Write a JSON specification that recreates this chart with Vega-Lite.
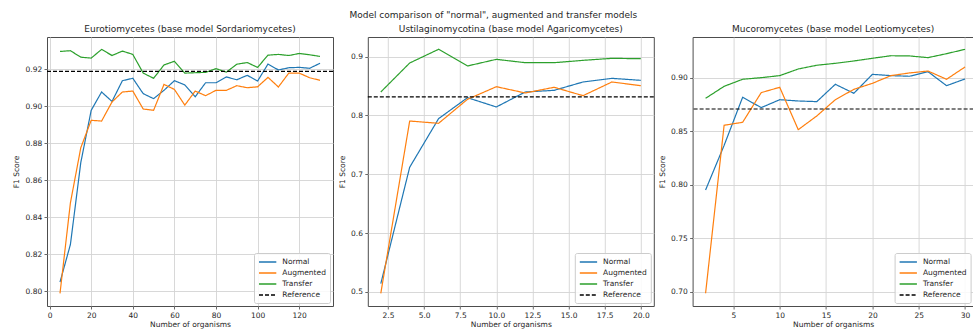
{
  "$schema": "https://vega.github.io/schema/vega-lite/v6.json",
  "padding": {"left": 12, "top": 10, "right": 0, "bottom": 0},
  "title": {"text": "Model comparison of \"normal\", augmented and transfer models", "anchor": "middle", "fontSize": 9, "offset": 5},
  "datasets": {
    "euro": [
      {"series": "Normal", "organisms": 5, "f1": 0.8049}, {"series": "Normal", "organisms": 10, "f1": 0.8252}, {"series": "Normal", "organisms": 15, "f1": 0.8695}, {"series": "Normal", "organisms": 20, "f1": 0.8977}, {"series": "Normal", "organisms": 25, "f1": 0.9076}, {"series": "Normal", "organisms": 30, "f1": 0.9025}, {"series": "Normal", "organisms": 35, "f1": 0.9137}, {"series": "Normal", "organisms": 40, "f1": 0.915}, {"series": "Normal", "organisms": 45, "f1": 0.9067}, {"series": "Normal", "organisms": 50, "f1": 0.904}, {"series": "Normal", "organisms": 55, "f1": 0.9085}, {"series": "Normal", "organisms": 60, "f1": 0.9137}, {"series": "Normal", "organisms": 65, "f1": 0.9114}, {"series": "Normal", "organisms": 70, "f1": 0.905}, {"series": "Normal", "organisms": 75, "f1": 0.9126}, {"series": "Normal", "organisms": 80, "f1": 0.9126}, {"series": "Normal", "organisms": 85, "f1": 0.9157}, {"series": "Normal", "organisms": 90, "f1": 0.9142}, {"series": "Normal", "organisms": 95, "f1": 0.9166}, {"series": "Normal", "organisms": 100, "f1": 0.9135}, {"series": "Normal", "organisms": 105, "f1": 0.9227}, {"series": "Normal", "organisms": 110, "f1": 0.9195}, {"series": "Normal", "organisms": 115, "f1": 0.9207}, {"series": "Normal", "organisms": 120, "f1": 0.9209}, {"series": "Normal", "organisms": 125, "f1": 0.9204}, {"series": "Normal", "organisms": 130, "f1": 0.9231},
      {"series": "Augmented", "organisms": 5, "f1": 0.7988}, {"series": "Augmented", "organisms": 10, "f1": 0.8477}, {"series": "Augmented", "organisms": 15, "f1": 0.8775}, {"series": "Augmented", "organisms": 20, "f1": 0.8923}, {"series": "Augmented", "organisms": 25, "f1": 0.8919}, {"series": "Augmented", "organisms": 30, "f1": 0.9022}, {"series": "Augmented", "organisms": 35, "f1": 0.9076}, {"series": "Augmented", "organisms": 40, "f1": 0.9081}, {"series": "Augmented", "organisms": 45, "f1": 0.8984}, {"series": "Augmented", "organisms": 50, "f1": 0.8977}, {"series": "Augmented", "organisms": 55, "f1": 0.9117}, {"series": "Augmented", "organisms": 60, "f1": 0.909}, {"series": "Augmented", "organisms": 65, "f1": 0.9005}, {"series": "Augmented", "organisms": 70, "f1": 0.9081}, {"series": "Augmented", "organisms": 75, "f1": 0.9056}, {"series": "Augmented", "organisms": 80, "f1": 0.9085}, {"series": "Augmented", "organisms": 85, "f1": 0.9085}, {"series": "Augmented", "organisms": 90, "f1": 0.911}, {"series": "Augmented", "organisms": 95, "f1": 0.9099}, {"series": "Augmented", "organisms": 100, "f1": 0.9104}, {"series": "Augmented", "organisms": 105, "f1": 0.9155}, {"series": "Augmented", "organisms": 110, "f1": 0.9103}, {"series": "Augmented", "organisms": 115, "f1": 0.9178}, {"series": "Augmented", "organisms": 120, "f1": 0.9178}, {"series": "Augmented", "organisms": 125, "f1": 0.9153}, {"series": "Augmented", "organisms": 130, "f1": 0.9139},
      {"series": "Transfer", "organisms": 5, "f1": 0.9295}, {"series": "Transfer", "organisms": 10, "f1": 0.9299}, {"series": "Transfer", "organisms": 15, "f1": 0.9264}, {"series": "Transfer", "organisms": 20, "f1": 0.9259}, {"series": "Transfer", "organisms": 25, "f1": 0.9306}, {"series": "Transfer", "organisms": 30, "f1": 0.9273}, {"series": "Transfer", "organisms": 35, "f1": 0.9297}, {"series": "Transfer", "organisms": 40, "f1": 0.9279}, {"series": "Transfer", "organisms": 45, "f1": 0.9178}, {"series": "Transfer", "organisms": 50, "f1": 0.915}, {"series": "Transfer", "organisms": 55, "f1": 0.9222}, {"series": "Transfer", "organisms": 60, "f1": 0.9242}, {"series": "Transfer", "organisms": 65, "f1": 0.9178}, {"series": "Transfer", "organisms": 70, "f1": 0.918}, {"series": "Transfer", "organisms": 75, "f1": 0.9182}, {"series": "Transfer", "organisms": 80, "f1": 0.9202}, {"series": "Transfer", "organisms": 85, "f1": 0.9183}, {"series": "Transfer", "organisms": 90, "f1": 0.9226}, {"series": "Transfer", "organisms": 95, "f1": 0.9235}, {"series": "Transfer", "organisms": 100, "f1": 0.9209}, {"series": "Transfer", "organisms": 105, "f1": 0.9275}, {"series": "Transfer", "organisms": 110, "f1": 0.9279}, {"series": "Transfer", "organisms": 115, "f1": 0.9273}, {"series": "Transfer", "organisms": 120, "f1": 0.9284}, {"series": "Transfer", "organisms": 125, "f1": 0.9277}, {"series": "Transfer", "organisms": 130, "f1": 0.9268},
      {"series": "Reference", "f1": 0.9187}
    ],
    "usti": [
      {"series": "Normal", "organisms": 2, "f1": 0.514}, {"series": "Normal", "organisms": 4, "f1": 0.712}, {"series": "Normal", "organisms": 6, "f1": 0.7946}, {"series": "Normal", "organisms": 8, "f1": 0.8303}, {"series": "Normal", "organisms": 10, "f1": 0.8145}, {"series": "Normal", "organisms": 12, "f1": 0.84}, {"series": "Normal", "organisms": 14, "f1": 0.8428}, {"series": "Normal", "organisms": 16, "f1": 0.857}, {"series": "Normal", "organisms": 18, "f1": 0.8632}, {"series": "Normal", "organisms": 20, "f1": 0.8598},
      {"series": "Augmented", "organisms": 2, "f1": 0.4976}, {"series": "Augmented", "organisms": 4, "f1": 0.7906}, {"series": "Augmented", "organisms": 6, "f1": 0.7867}, {"series": "Augmented", "organisms": 8, "f1": 0.8275}, {"series": "Augmented", "organisms": 10, "f1": 0.849}, {"series": "Augmented", "organisms": 12, "f1": 0.8383}, {"series": "Augmented", "organisms": 14, "f1": 0.848}, {"series": "Augmented", "organisms": 16, "f1": 0.8337}, {"series": "Augmented", "organisms": 18, "f1": 0.857}, {"series": "Augmented", "organisms": 20, "f1": 0.8507},
      {"series": "Transfer", "organisms": 2, "f1": 0.84}, {"series": "Transfer", "organisms": 4, "f1": 0.8893}, {"series": "Transfer", "organisms": 6, "f1": 0.9126}, {"series": "Transfer", "organisms": 8, "f1": 0.8842}, {"series": "Transfer", "organisms": 10, "f1": 0.8955}, {"series": "Transfer", "organisms": 12, "f1": 0.8898}, {"series": "Transfer", "organisms": 14, "f1": 0.8898}, {"series": "Transfer", "organisms": 16, "f1": 0.8938}, {"series": "Transfer", "organisms": 18, "f1": 0.8972}, {"series": "Transfer", "organisms": 20, "f1": 0.8966},
      {"series": "Reference", "f1": 0.8315}
    ],
    "muco": [
      {"series": "Normal", "organisms": 2, "f1": 0.7953}, {"series": "Normal", "organisms": 4, "f1": 0.837}, {"series": "Normal", "organisms": 6, "f1": 0.882}, {"series": "Normal", "organisms": 8, "f1": 0.8723}, {"series": "Normal", "organisms": 10, "f1": 0.8797}, {"series": "Normal", "organisms": 12, "f1": 0.8785}, {"series": "Normal", "organisms": 14, "f1": 0.8779}, {"series": "Normal", "organisms": 16, "f1": 0.8941}, {"series": "Normal", "organisms": 18, "f1": 0.8857}, {"series": "Normal", "organisms": 20, "f1": 0.9034}, {"series": "Normal", "organisms": 22, "f1": 0.9022}, {"series": "Normal", "organisms": 24, "f1": 0.9016}, {"series": "Normal", "organisms": 26, "f1": 0.9059}, {"series": "Normal", "organisms": 28, "f1": 0.8928}, {"series": "Normal", "organisms": 30, "f1": 0.8991},
      {"series": "Augmented", "organisms": 2, "f1": 0.6988}, {"series": "Augmented", "organisms": 4, "f1": 0.8558}, {"series": "Augmented", "organisms": 6, "f1": 0.8586}, {"series": "Augmented", "organisms": 8, "f1": 0.8863}, {"series": "Augmented", "organisms": 10, "f1": 0.8913}, {"series": "Augmented", "organisms": 12, "f1": 0.8517}, {"series": "Augmented", "organisms": 14, "f1": 0.8645}, {"series": "Augmented", "organisms": 16, "f1": 0.8797}, {"series": "Augmented", "organisms": 18, "f1": 0.8894}, {"series": "Augmented", "organisms": 20, "f1": 0.895}, {"series": "Augmented", "organisms": 22, "f1": 0.9022}, {"series": "Augmented", "organisms": 24, "f1": 0.9047}, {"series": "Augmented", "organisms": 26, "f1": 0.9065}, {"series": "Augmented", "organisms": 28, "f1": 0.8988}, {"series": "Augmented", "organisms": 30, "f1": 0.9103},
      {"series": "Transfer", "organisms": 2, "f1": 0.881}, {"series": "Transfer", "organisms": 4, "f1": 0.8922}, {"series": "Transfer", "organisms": 6, "f1": 0.8988}, {"series": "Transfer", "organisms": 8, "f1": 0.9003}, {"series": "Transfer", "organisms": 10, "f1": 0.9022}, {"series": "Transfer", "organisms": 12, "f1": 0.9084}, {"series": "Transfer", "organisms": 14, "f1": 0.9119}, {"series": "Transfer", "organisms": 16, "f1": 0.9137}, {"series": "Transfer", "organisms": 18, "f1": 0.9159}, {"series": "Transfer", "organisms": 20, "f1": 0.9184}, {"series": "Transfer", "organisms": 22, "f1": 0.9208}, {"series": "Transfer", "organisms": 24, "f1": 0.9206}, {"series": "Transfer", "organisms": 26, "f1": 0.919}, {"series": "Transfer", "organisms": 28, "f1": 0.9227}, {"series": "Transfer", "organisms": 30, "f1": 0.9268},
      {"series": "Reference", "f1": 0.871}
    ]
  },
  "hconcat": [
    {
      "title": "Eurotiomycetes (base model Sordariomycetes)",
      "width": 286, "height": 269,
      "data": {"name": "euro"},
      "encoding": {
        "y": {"field": "f1", "type": "quantitative", "title": "F1 Score", "scale": {"domain": [0.792, 0.9373], "nice": false, "zero": false}, "axis": {"values": [0.80, 0.82, 0.84, 0.86, 0.88, 0.90, 0.92], "format": ".2f"}},
        "color": {"field": "series", "type": "nominal", "title": null, "scale": {"domain": ["Normal", "Augmented", "Transfer", "Reference"], "range": ["#1f77b4", "#ff7f0e", "#2ca02c", "#000000"]}},
        "strokeDash": {"field": "series", "type": "nominal", "title": null, "scale": {"domain": ["Normal", "Augmented", "Transfer", "Reference"], "range": [[1, 0], [1, 0], [1, 0], [4, 2]]}}
      },
      "layer": [
        {"transform": [{"filter": "datum.series !== 'Reference'"}], "mark": {"type": "line", "strokeWidth": 1.2},
         "encoding": {"x": {"field": "organisms", "type": "quantitative", "title": "Number of organisms", "scale": {"domain": [-1.25, 136.25], "nice": false, "zero": false}, "axis": {"values": [0, 20, 40, 60, 80, 100, 120], "format": "d"}}}},
        {"transform": [{"filter": "datum.series === 'Reference'"}], "mark": {"type": "rule", "strokeWidth": 1.2}, "encoding": {}}
      ]
    },
    {
      "title": "Ustilaginomycotina (base model Agaricomycetes)",
      "width": 286, "height": 269,
      "data": {"name": "usti"},
      "encoding": {
        "y": {"field": "f1", "type": "quantitative", "title": "F1 Score", "scale": {"domain": [0.476, 0.9335], "nice": false, "zero": false}, "axis": {"values": [0.5, 0.6, 0.7, 0.8, 0.9], "format": ".1f"}},
        "color": {"field": "series", "type": "nominal", "title": null, "scale": {"domain": ["Normal", "Augmented", "Transfer", "Reference"], "range": ["#1f77b4", "#ff7f0e", "#2ca02c", "#000000"]}},
        "strokeDash": {"field": "series", "type": "nominal", "title": null, "scale": {"domain": ["Normal", "Augmented", "Transfer", "Reference"], "range": [[1, 0], [1, 0], [1, 0], [4, 2]]}}
      },
      "layer": [
        {"transform": [{"filter": "datum.series !== 'Reference'"}], "mark": {"type": "line", "strokeWidth": 1.2},
         "encoding": {"x": {"field": "organisms", "type": "quantitative", "title": "Number of organisms", "scale": {"domain": [1.1, 20.9], "nice": false, "zero": false}, "axis": {"values": [2.5, 5, 7.5, 10, 12.5, 15, 17.5, 20], "format": ".1f"}}}},
        {"transform": [{"filter": "datum.series === 'Reference'"}], "mark": {"type": "rule", "strokeWidth": 1.2}, "encoding": {}}
      ]
    },
    {
      "title": "Mucoromycetes (base model Leotiomycetes)",
      "width": 281, "height": 269,
      "data": {"name": "muco"},
      "encoding": {
        "y": {"field": "f1", "type": "quantitative", "title": "F1 Score", "scale": {"domain": [0.6869, 0.9383], "nice": false, "zero": false}, "axis": {"values": [0.70, 0.75, 0.80, 0.85, 0.90], "format": ".2f"}},
        "color": {"field": "series", "type": "nominal", "title": null, "scale": {"domain": ["Normal", "Augmented", "Transfer", "Reference"], "range": ["#1f77b4", "#ff7f0e", "#2ca02c", "#000000"]}},
        "strokeDash": {"field": "series", "type": "nominal", "title": null, "scale": {"domain": ["Normal", "Augmented", "Transfer", "Reference"], "range": [[1, 0], [1, 0], [1, 0], [4, 2]]}}
      },
      "layer": [
        {"transform": [{"filter": "datum.series !== 'Reference'"}], "mark": {"type": "line", "strokeWidth": 1.2},
         "encoding": {"x": {"field": "organisms", "type": "quantitative", "title": "Number of organisms", "scale": {"domain": [0.6, 30.92], "nice": false, "zero": false}, "axis": {"values": [5, 10, 15, 20, 25, 30], "format": "d"}}}},
        {"transform": [{"filter": "datum.series === 'Reference'"}], "mark": {"type": "rule", "strokeWidth": 1.2}, "encoding": {}}
      ]
    }
  ],
  "spacing": 1.8,
  "resolve": {
    "scale": {"x": "independent", "y": "independent", "color": "independent", "strokeDash": "independent"},
    "legend": {"color": "independent", "strokeDash": "independent"}
  },
  "config": {
    "font": "DejaVu Sans",
    "view": {"stroke": "#4d4d4d", "strokeWidth": 1},
    "axis": {"domain": false, "labelFontSize": 7.5, "labelColor": "#262626", "titleFontSize": 7.5, "titleFontWeight": "normal", "titleColor": "#262626", "tickColor": "#444444", "tickSize": 3, "tickWidth": 0.8, "gridColor": "#d4d4d4", "gridWidth": 0.9, "labelFlush": false},
    "axisX": {"titlePadding": 2, "labelPadding": 2},
    "axisY": {"titlePadding": 4.5, "labelPadding": 2.3},
    "title": {"fontSize": 9, "fontWeight": "normal", "color": "#262626", "offset": 3},
    "legend": {"orient": "bottom-right", "offset": 3, "padding": 4, "fillColor": "rgba(255,255,255,0.85)", "strokeColor": "#cccccc", "cornerRadius": 2, "symbolType": "M-1,0H3.33", "symbolSize": 64, "symbolStrokeWidth": 1.5, "labelFontSize": 7.5, "labelColor": "#262626", "rowPadding": 2, "labelOffset": 14.3}
  }
}
